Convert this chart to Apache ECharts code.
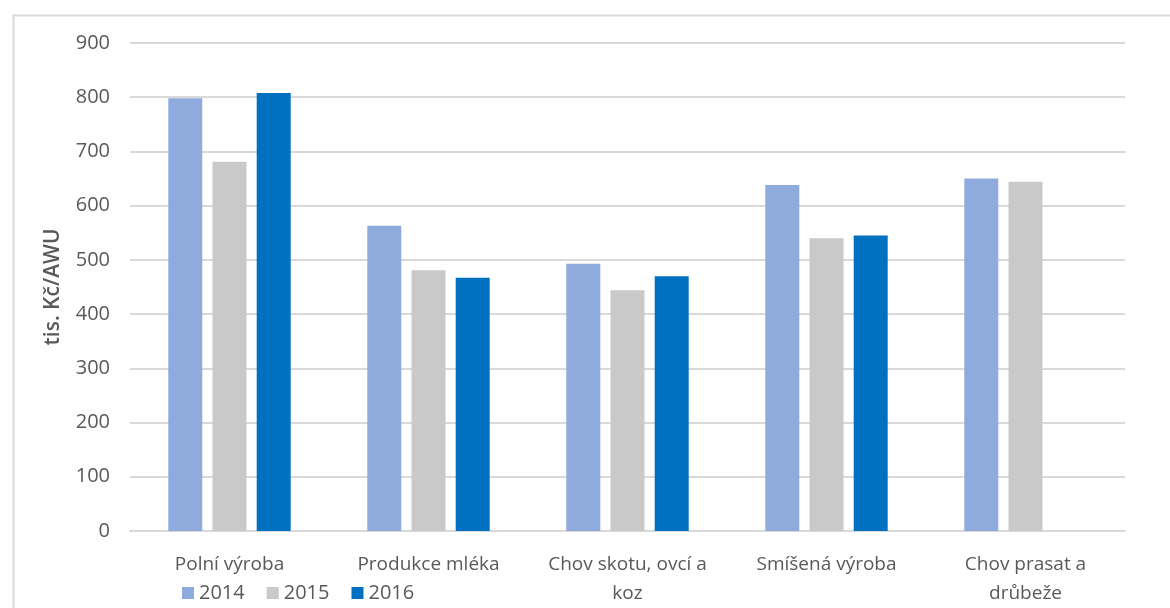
<!DOCTYPE html>
<html>
<head>
<meta charset="utf-8">
<script src="https://cdn.jsdelivr.net/npm/echarts@6/dist/echarts.min.js"></script>
<style>
    html, body { margin: 0; padding: 0; background: #fff; }
    #chart { width: 1170px; height: 608px; }
</style>
</head>
<body>
<div id="chart"></div>
<script>
// kategorie (typ zemědělské výroby)
const categories = [
    'Polní výroba',
    'Produkce mléka',
    'Chov skotu, ovcí a\nkoz',
    'Smíšená výroba',
    'Chov prasat a\ndrůbeže',
]

// hodnoty v tis. Kč/AWU
const values2014 = [798, 563, 493, 638, 650]
const values2015 = [681, 481, 444, 540, 644]
const values2016 = [808, 467, 470, 545, null]

const years = ['2014', '2015', '2016']
const COLORS = ['#8faadc', '#c9c9c9', '#0070c0']

const FONT = 'Open Sans'
const TEXT_COLOR = '#595959'

const myChart = echarts.init(document.getElementById('chart'))

function makeSeries(name, data, color) {
    return {
        name,
        type: 'bar',
        data,
        barWidth: 34,
        barGap: '30%',
        itemStyle: { color },
    }
}

const option = {
    backgroundColor: '#fff',
    animation: false,
    textStyle: { fontFamily: FONT },
    // rámeček okolo grafu
    graphic: [
        {
            type: 'rect',
            left: 11,
            top: 13,
            shape: { width: 1200, height: 700 },
            style: { fill: 'none', stroke: '#d9d9d9', lineWidth: 2 },
            silent: true,
        },
    ],
    grid: {
        left: 130,
        right: 45,
        top: 43,
        bottom: 77,
    },
    legend: {
        left: 177,
        top: 578,
        icon: 'rect',
        itemWidth: 12,
        itemHeight: 12,
        itemGap: 22,
        data: years,
        textStyle: {
            fontFamily: FONT,
            fontSize: 20,
            color: TEXT_COLOR,
            padding: [0, 0, 0, 0],
        },
    },
    xAxis: {
        type: 'category',
        data: categories,
        axisLine: { lineStyle: { color: '#d9d9d9', width: 2 } },
        axisTick: { show: false },
        axisLabel: {
            margin: 19,
            fontFamily: FONT,
            fontSize: 19,
            color: TEXT_COLOR,
            lineHeight: 29,
            interval: 0,
        },
    },
    yAxis: {
        type: 'value',
        min: 0,
        max: 900,
        interval: 100,
        name: 'tis. Kč/AWU',
        nameLocation: 'middle',
        nameGap: 66,
        nameTextStyle: {
            fontFamily: FONT,
            fontSize: 21,
            fontWeight: 600,
            color: TEXT_COLOR,
        },
        axisLine: { show: false },
        axisTick: { show: false },
        axisLabel: {
            margin: 20,
            fontFamily: FONT,
            fontSize: 20,
            color: TEXT_COLOR,
        },
        splitLine: { lineStyle: { color: '#d9d9d9', width: 2 } },
    },
    series: [
        makeSeries(years[0], values2014, COLORS[0]),
        makeSeries(years[1], values2015, COLORS[1]),
        makeSeries(years[2], values2016, COLORS[2]),
    ],
}

myChart.setOption(option)
</script>
</body>
</html>
